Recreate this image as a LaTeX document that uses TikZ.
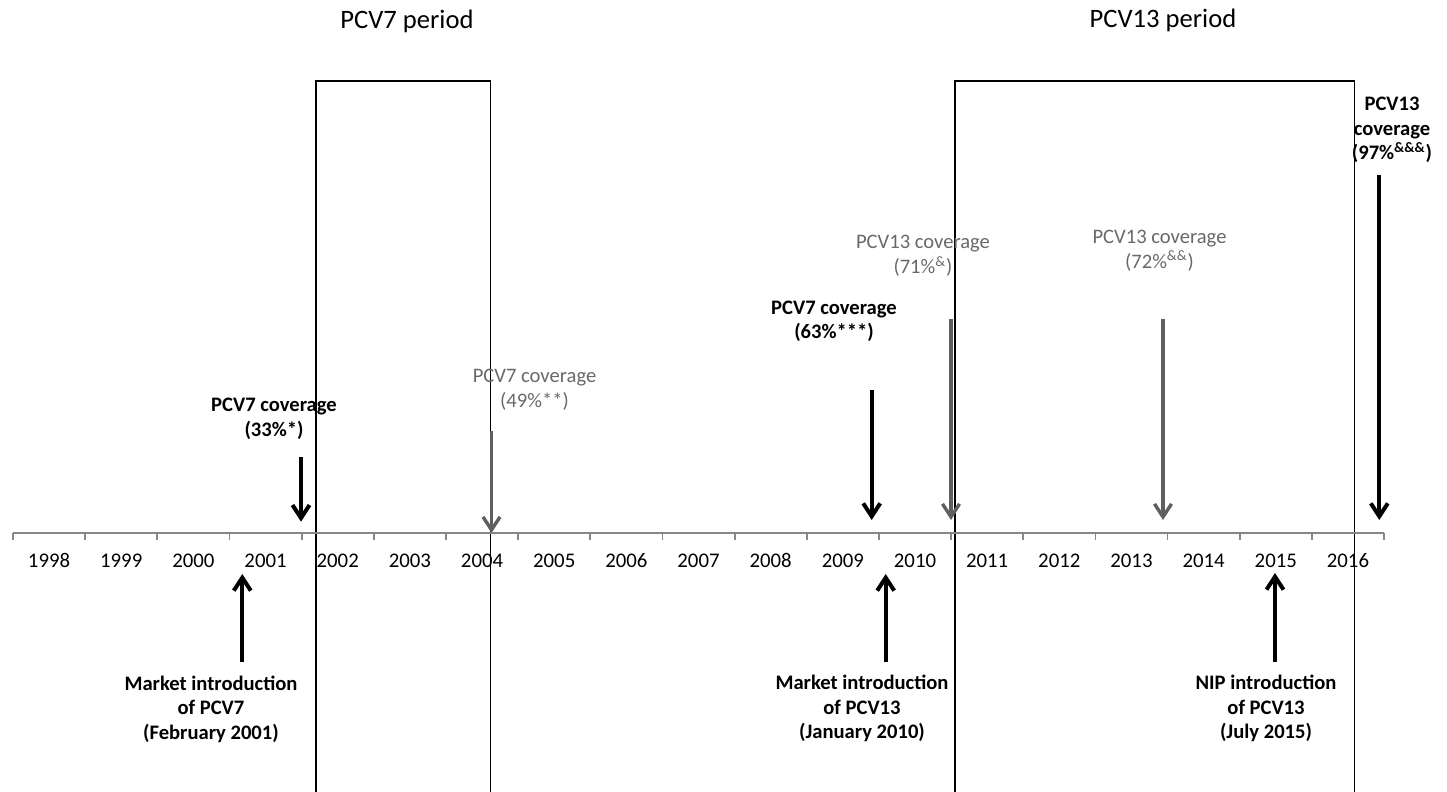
\documentclass[tikz,border=0pt]{standalone}
\usepackage{fontspec}
\setmainfont{Carlito}
\usetikzlibrary{arrows.meta}
\definecolor{txtgray}{RGB}{105,105,105}
\definecolor{arrgray}{RGB}{95,95,95}
\definecolor{axgray}{RGB}{135,135,135}
\begin{document}
\begin{tikzpicture}[x=0.5pt,y=-0.5pt,
  lbl/.style={align=center,inner sep=0pt,font=\fontsize{10.3}{12.3}\selectfont},
  blbl/.style={lbl,font=\fontsize{10.3}{12.3}\selectfont\bfseries},
  glbl/.style={lbl,text=txtgray},
  ttl/.style={inner sep=0pt,font=\fontsize{13.3}{16}\selectfont},
  yearlbl/.style={inner sep=0pt,font=\fontsize{10.4}{12}\selectfont},
  barr/.style={line width=2pt,-{Straight Barb[length=6.5pt,width=8.5pt]}},
  garr/.style={line width=1.7pt,draw=arrgray,-{Straight Barb[length=6.5pt,width=8.5pt]}},
  period/.style={line width=0.7pt},
  axisline/.style={draw=axgray,line width=0.9pt},
]
\useasboundingbox (0,0) rectangle (1447,792);

% period titles
\node[ttl] (t7) at (407,21) {PCV7 period};
\node[ttl] (t13) at (1163,20) {PCV13 period};

% period boxes (open at the bottom edge)
\coordinate (p7a) at (316,800);
\coordinate (p7b) at (490.7,800);
\coordinate (p13a) at (955,800);
\coordinate (p13b) at (1354.3,800);
\draw[period] (p7a) |- (490.7,81) -- (p7b);
\draw[period] (p13a) |- (1354.3,81) -- (p13b);

% axis
\coordinate (axL) at (13,533);
\coordinate (axR) at (1384,533);
\draw[axisline] (axL) -- (axR);
\foreach \k in {0,...,19}
  \draw[axisline] ({13+72.16*\k},533) -- ++(0,7);
\foreach \k [evaluate=\k as \yr using int(1998+\k)] in {0,...,18}
  \node[yearlbl] (y\yr) at ({13+72.16*(\k+0.5)},560.5) {\yr};

% coverage labels
\node[blbl] (l33) at (274,419) {PCV7 coverage\\(33\%*)};
\node[glbl] (l49) at (534.5,390) {PCV7 coverage\\(49\%**)};
\node[blbl] (l63) at (834,321.5) {PCV7 coverage\\(63\%***)};
\node[glbl] (l71) at (923,256) {PCV13 coverage\\(71\%\textsuperscript{\&})};
\node[glbl] (l72) at (1159.5,250.5) {PCV13 coverage\\(72\%\textsuperscript{\&\&})};
\node[blbl] (l97) at (1392,130) {PCV13\\coverage\\(97\%\textsuperscript{\&\&\&})};

% arrow end points
\coordinate (a1s) at (301,457);    \coordinate (a1e) at (301,521.7);
\coordinate (a2s) at (491.5,431);  \coordinate (a2e) at (491.5,533);
\coordinate (a3s) at (871.7,390);  \coordinate (a3e) at (871.7,520);
\coordinate (a4s) at (951,319);    \coordinate (a4e) at (951,520);
\coordinate (a5s) at (1163,319);   \coordinate (a5e) at (1163,520);
\coordinate (a6s) at (1379.3,175); \coordinate (a6e) at (1379.3,520);
\coordinate (u1s) at (242.3,662);  \coordinate (u1e) at (242.3,574);
\coordinate (u2s) at (885.7,662);  \coordinate (u2e) at (885.7,574);
\coordinate (u3s) at (1275,662);   \coordinate (u3e) at (1275,573);

\draw[barr] (a1s) -- (a1e);
\draw[garr] (a2s) -- (a2e);
\draw[barr] (a3s) -- (a3e);
\draw[garr] (a4s) -- (a4e);
\draw[garr] (a5s) -- (a5e);
\draw[barr] (a6s) -- (a6e);
\draw[barr] (u1s) -- (u1e);
\draw[barr] (u2s) -- (u2e);
\draw[barr] (u3s) -- (u3e);

% introduction labels
\node[blbl] (m7) at (211,709) {Market introduction\\of PCV7\\(February 2001)};
\node[blbl] (m13) at (862,708.5) {Market introduction\\of PCV13\\(January 2010)};
\node[blbl] (nip) at (1266,708.5) {NIP introduction\\of PCV13\\(July 2015)};
\end{tikzpicture}
\end{document}
